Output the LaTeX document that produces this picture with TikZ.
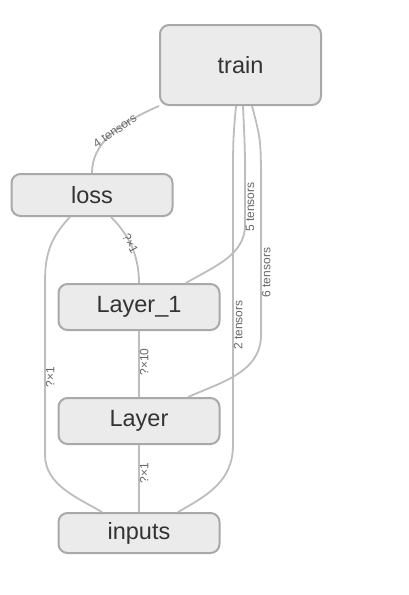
\documentclass[tikz,border=0pt]{standalone}
\usepackage{fontspec}
\setmainfont{Liberation Sans}
\definecolor{riempimento}{HTML}{EBEBEB}
\definecolor{bordo}{HTML}{A9A9A9}
\definecolor{arco}{HTML}{BDBDBD}
\definecolor{testo}{HTML}{333333}
\definecolor{testoarco}{HTML}{666666}

\begin{document}
\begin{tikzpicture}[
  x=1pt, y=-1pt,
  nodo/.style={draw=bordo, fill=riempimento, line width=2pt,
               rounded corners=9pt, minimum width=161pt, inner sep=0pt,
               text=testo, font=\fontsize{23.5}{26}\selectfont},
  arco/.style={draw=arco, line width=1.8pt},
  verticale/.style={rotate=90, anchor=north, inner sep=0pt,
                    text=testoarco, font=\fontsize{12}{13}\selectfont},
  inclinata/.style={inner sep=0pt,
                    text=testoarco, font=\fontsize{12}{13}\selectfont}
]
\useasboundingbox (0,0) rectangle (408,595);

%--------------------------------------------------------------
% Nodi del grafo
%--------------------------------------------------------------
\node[nodo, minimum height=80pt] (train)    at (240.5,65) {train};
\node[nodo, minimum height=42pt] (loss)     at (92,195)   {loss};
\node[nodo, minimum height=46pt] (layerone) at (139,307)  {Layer\_1};
\node[nodo, minimum height=46pt] (layer)    at (139,421)  {Layer};
\node[nodo, minimum height=40pt] (inputs)   at (139,533)  {inputs};

%--------------------------------------------------------------
% Archi che partono da train
%--------------------------------------------------------------
\draw[arco] (train.south west) .. controls (115,125) and (92,145) ..
  node[inclinata, pos=0.42, rotate=34] {4 tensors} (loss.north);
\draw[arco] ([xshift=-4.5pt]train.south) .. controls (233,140) .. (233,190)
  -- node[verticale, pos=0.53] {2 tensors} (233,445)
  .. controls (233,482) and (206,496) .. ([xshift=39pt]inputs.north);
\draw[arco] ([xshift=2.5pt]train.south) .. controls (245,150) .. (245,180)
  -- node[verticale, pos=0.6] {5 tensors} (245,225)
  .. controls (245,255) and (215,266) .. ([xshift=47pt]layerone.north);
\draw[arco] ([xshift=11.5pt]train.south) .. controls (261,140) .. (261,190)
  -- node[verticale, pos=0.57] {6 tensors} (261,335)
  .. controls (261,372) and (222,382) .. ([xshift=49pt]layer.north);

%--------------------------------------------------------------
% Archi che partono da loss
%--------------------------------------------------------------
\draw[arco] ([xshift=19pt]loss.south) .. controls (126,232) and (139,252) ..
  node[inclinata, pos=0.45, rotate=-62, xshift=3pt] {?×1} (layerone.north);
\draw[arco] ([xshift=-22pt]loss.south) .. controls (50,238) and (45,255) .. (45,282)
  -- node[verticale, pos=0.55] {?×1} (45,455)
  .. controls (45,485) and (78,498) .. ([xshift=-37pt]inputs.north);

%--------------------------------------------------------------
% Catena Layer_1 -> Layer -> inputs
%--------------------------------------------------------------
\draw[arco] (layerone) -- node[verticale, pos=0.47] {?×10} (layer);
\draw[arco] (layer) -- node[verticale, pos=0.42] {?×1} (inputs);

\end{tikzpicture}
\end{document}
